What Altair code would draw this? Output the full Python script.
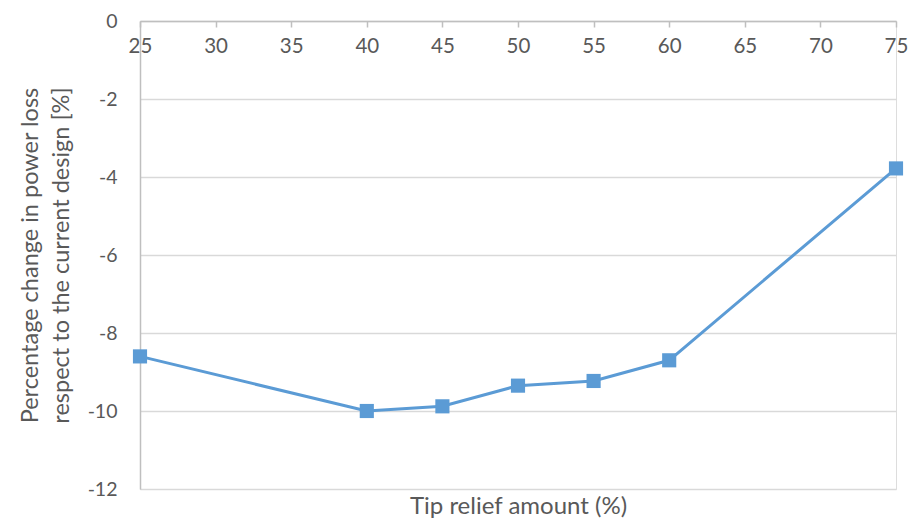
import altair as alt
import pandas as pd

tip_relief = [25, 40, 45, 50, 55, 60, 75]
power_loss_change = [-8.6, -10.0, -9.88, -9.35, -9.23, -8.7, -3.78]
x_ticks = [25, 30, 35, 40, 45, 50, 55, 60, 65, 70, 75]
y_ticks = [0, -2, -4, -6, -8, -10, -12]

df = pd.DataFrame({"x": tip_relief, "y": power_loss_change})

W, H = 756, 468
FONT = "Lato"
TXT = "#595959"
GRID = "#d9d9d9"
BLUE = "#5b9bd5"

x_scale = alt.Scale(domain=[25, 75], nice=False, zero=False)
y_scale = alt.Scale(domain=[-12, 0], nice=False, zero=False)

x_axis = alt.Axis(
    orient="bottom", offset=-H, values=x_ticks, grid=False,
    domainColor="#bfbfbf", domainWidth=1.5,
    tickColor="#bfbfbf", tickWidth=1.5, tickSize=6,
    labelFont=FONT, labelFontSize=20.5, labelColor=TXT, labelPadding=9,
    labelFlush=False, labelExpr="toString(datum.value)",
    title="Tip relief amount (%)", titleFont=FONT, titleFontSize=24,
    titleFontWeight="normal", titleColor=TXT, titleY=485, titleBaseline="middle",
)
y_axis = alt.Axis(
    orient="left", values=y_ticks, grid=True, gridColor=GRID, gridWidth=1.5,
    domainColor="#bfbfbf", domainWidth=1.5, ticks=False,
    labelFont=FONT, labelFontSize=19.5, labelColor=TXT, labelPadding=23,
    labelFlush=False, labelExpr="toString(datum.value)",
    title=["Percentage change in power loss", "respect to the current design [%]"],
    titleFont=FONT, titleFontSize=23.5, titleFontWeight="normal", titleColor=TXT,
    titleLineHeight=31, titlePadding=14,
)

base = alt.Chart(df)
line = base.mark_line(color=BLUE, strokeWidth=3).encode(
    x=alt.X("x:Q", scale=x_scale, axis=x_axis),
    y=alt.Y("y:Q", scale=y_scale, axis=y_axis),
)
points = base.mark_point(shape="square", filled=True, size=200, color=BLUE, opacity=1).encode(
    x=alt.X("x:Q", scale=x_scale),
    y=alt.Y("y:Q", scale=y_scale),
)

chart = (line + points).properties(
    width=W, height=H,
    autosize=alt.AutoSizeParams(type="none"),
    padding={"left": 132, "top": 13, "right": 13, "bottom": 32},
).configure_view(stroke=None).configure(background="white")

chart.save("out.html", embed_options={"renderer": "svg", "actions": False})
